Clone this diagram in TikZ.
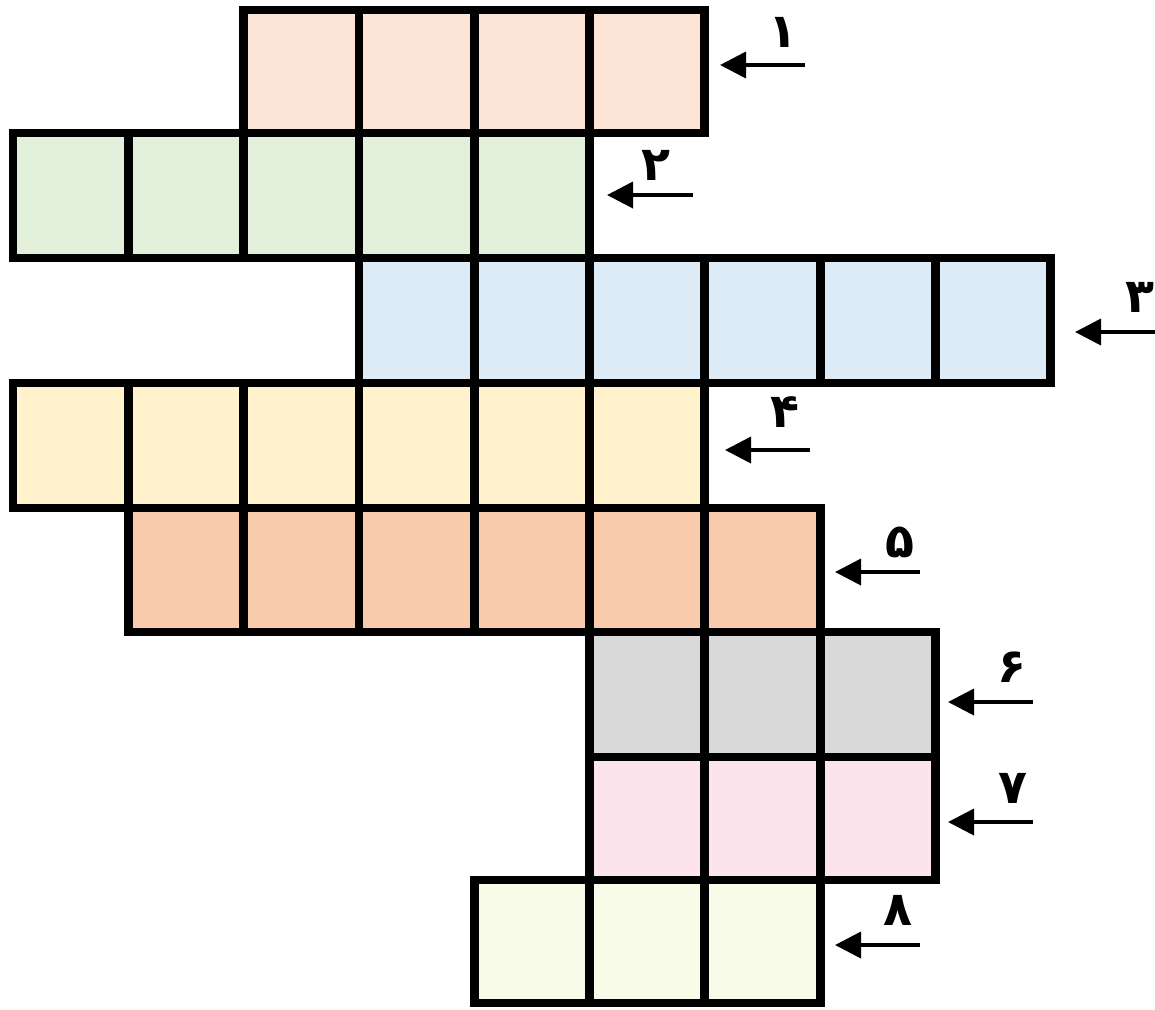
\documentclass[tikz,border=0pt]{standalone}
\usepackage{fontspec}
\newfontfamily\arabicfont[Script=Arabic]{DejaVu Sans}
\usetikzlibrary{arrows.meta}

\definecolor{rowA}{HTML}{FCE4D6}
\definecolor{rowB}{HTML}{E2EFDA}
\definecolor{rowC}{HTML}{DDEBF7}
\definecolor{rowD}{HTML}{FFF2CC}
\definecolor{rowE}{HTML}{F8CBAD}
\definecolor{rowF}{HTML}{D9D9D9}
\definecolor{rowG}{HTML}{FCE4EC}
\definecolor{rowH}{HTML}{F8FBE8}

\begin{document}
\begin{tikzpicture}[x=0.02cm, y=-0.02cm,
    cell/.style={draw=black, line width=5pt},
    pointer/.style={-{Triangle[length=0.52cm,width=0.52cm]}, line width=2.1pt},
    num/.style={font=\arabicfont\bfseries\fontsize{27}{30}\selectfont, inner sep=0pt}]
        \useasboundingbox (0,0) rectangle (1155,1009);

        \foreach \k in {2,...,5} \filldraw[cell, fill=rowA] ({13+115.3*\k},10) rectangle ({13+115.3*(\k+1)},133);
        \foreach \k in {0,...,4} \filldraw[cell, fill=rowB] ({13+115.3*\k},133) rectangle ({13+115.3*(\k+1)},258);
        \foreach \k in {3,...,8} \filldraw[cell, fill=rowC] ({13+115.3*\k},258) rectangle ({13+115.3*(\k+1)},383);
        \foreach \k in {0,...,5} \filldraw[cell, fill=rowD] ({13+115.3*\k},383) rectangle ({13+115.3*(\k+1)},508);
        \foreach \k in {1,...,6} \filldraw[cell, fill=rowE] ({13+115.3*\k},508) rectangle ({13+115.3*(\k+1)},632);
        \foreach \k in {5,...,7} \filldraw[cell, fill=rowF] ({13+115.3*\k},632) rectangle ({13+115.3*(\k+1)},757);
        \foreach \k in {5,...,7} \filldraw[cell, fill=rowG] ({13+115.3*\k},757) rectangle ({13+115.3*(\k+1)},880);
        \foreach \k in {4,...,6} \filldraw[cell, fill=rowH] ({13+115.3*\k},880) rectangle ({13+115.3*(\k+1)},1003);

        \coordinate (s1) at (805,65);   \coordinate (e1) at (720,65);
        \coordinate (s2) at (693,195);  \coordinate (e2) at (607,195);
        \coordinate (s3) at (1160,332); \coordinate (e3) at (1075,332);
        \coordinate (s4) at (810,450);  \coordinate (e4) at (725,450);
        \coordinate (s5) at (920,572);  \coordinate (e5) at (835,572);
        \coordinate (s6) at (1033,702); \coordinate (e6) at (948,702);
        \coordinate (s7) at (1033,822); \coordinate (e7) at (948,822);
        \coordinate (s8) at (920,945);  \coordinate (e8) at (835,945);

        \draw[pointer] (s1) -- (e1);
        \draw[pointer] (s2) -- (e2);
        \draw[pointer] (s3) -- (e3);
        \draw[pointer] (s4) -- (e4);
        \draw[pointer] (s5) -- (e5);
        \draw[pointer] (s6) -- (e6);
        \draw[pointer] (s7) -- (e7);
        \draw[pointer] (s8) -- (e8);

        \node[num] (n1) at (783,32) {۱};
        \node[num] (n2) at (656,165) {۲};
        \node[num] (n3) at (1140,297) {۳};
        \node[num] (n4) at (785,412) {۴};
        \node[num] (n5) at (900,542) {۵};
        \node[num] (n6) at (1012,667) {۶};
        \node[num] (n7) at (1013,788) {۷};
        \node[num] (n8) at (898,910) {۸};
    \end{tikzpicture}
\end{document}
